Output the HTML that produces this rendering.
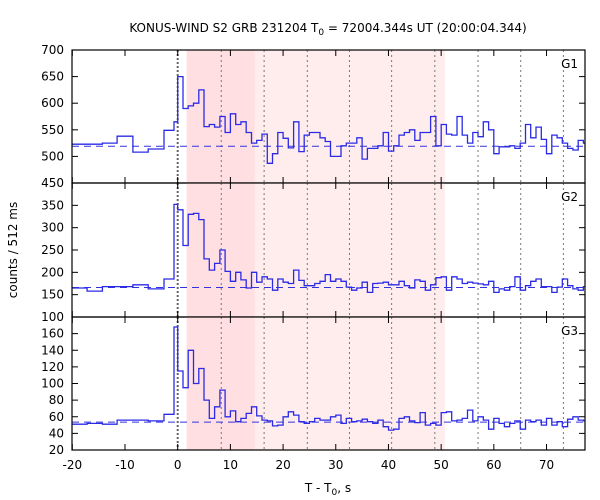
<!DOCTYPE html>
<html><head><meta charset="utf-8"><style>
html,body{margin:0;padding:0;background:#fff;}
svg{display:block;font-family:"DejaVu Sans","Liberation Sans",sans-serif;}
</style></head><body>
<svg id="chart" width="600" height="500" viewBox="0 0 600 500" xmlns="http://www.w3.org/2000/svg">
<text x="328" y="32" font-size="12" text-anchor="middle">KONUS-WIND S2 GRB 231204 T<tspan font-size="9" dy="3">0</tspan><tspan dy="-3"> = 72004.344s UT (20:00:04.344)</tspan></text>
<text transform="translate(17,250) rotate(-90)" font-size="12" text-anchor="middle">counts / 512 ms</text>
<text x="328" y="492" font-size="12" text-anchor="middle">T - T<tspan font-size="9" dy="3">0</tspan><tspan dy="-3">, s</tspan></text>
<g id="layers"></g>
</svg>
<script>
// ---- data ----
const preEdges = [-20, -17.2, -14.3, -11.5, -8.5, -5.6, -2.6, -0.7, 0];
const g1Pre = [523, 523, 525, 538, 508, 514, 549, 565];
const g2Pre = [165, 158, 168, 168, 172, 163, 185, 352];
const g3Pre = [51, 52, 51, 56, 56, 55, 63, 168];
const binWidth = 1; // post-trigger bins, seconds
const g1Post = [650,590,595,600,625,556,560,555,575,545,580,560,565,545,525,530,542,487,505,545,534,516,565,509,540,545,545,535,528,500,500,520,525,525,535,495,515,515,520,545,510,520,540,545,550,530,545,545,575,520,560,542,540,575,540,525,545,537,565,550,505,518,518,520,515,525,560,535,555,532,505,540,535,525,515,512,530,525];
const g2Post = [340,260,330,332,318,230,205,220,250,202,180,200,183,165,200,178,190,185,160,185,178,175,205,182,170,170,175,180,195,180,185,180,167,160,165,178,155,175,176,178,172,172,180,170,165,183,180,160,172,188,190,160,190,185,175,178,176,174,172,180,155,163,160,168,190,160,170,180,185,168,168,155,167,185,170,163,160,168];
const g3Post = [115,95,140,100,118,80,58,72,92,60,67,54,58,64,72,61,56,55,49,50,60,66,62,54,52,54,58,56,56,60,62,52,58,54,55,57,54,52,56,48,44,45,58,60,55,53,65,50,52,50,65,66,55,56,58,68,55,60,56,45,58,52,48,52,55,45,56,54,56,50,58,50,54,48,57,60,56,55];
const backgrounds = [519, 166, 53.5];
const panelNames = ["G1", "G2", "G3"];
const yRanges = [[450, 700], [100, 400], [20, 180]];
const yTicks = [[450,500,550,600,650,700],[100,150,200,250,300,350],[20,40,60,80,100,120,140,160]];
const xTicks = [-20,-10,0,10,20,30,40,50,60,70];
const dottedTimes = [8.27,16.4,24.6,32.6,40.6,48.8,57.0,65.1,73.2];
const shadeLight = [1.7, 50.7];
const shadeDark = [1.7, 14.6];
const xRange = [-20.06, 77.3];

// ---- layout ----
const L = 72, R = 585;
const panelTops = [50, 183, 317], panelBots = [183, 317, 450];
const NS = "http://www.w3.org/2000/svg";
const root = document.getElementById('layers');
function x(t){ return L + (t - xRange[0]) / (xRange[1] - xRange[0]) * (R - L); }
function mk(tag, attrs, parent){ const e = document.createElementNS(NS, tag); for (const k in attrs) e.setAttribute(k, attrs[k]); (parent||root).appendChild(e); return e; }

const defs = mk('defs', {});
const series = [[g1Pre, g1Post], [g2Pre, g2Post], [g3Pre, g3Post]];

for (let p = 0; p < 3; p++) {
  const top = panelTops[p], bot = panelBots[p];
  const [y0, y1] = yRanges[p];
  const y = v => bot - (v - y0) / (y1 - y0) * (bot - top);
  const cp = mk('clipPath', {id: 'clip' + p}, defs);
  mk('rect', {x: L, y: top, width: R - L, height: bot - top}, cp);
  const g = mk('g', {});
  
  
  const light = mk('rect', {x: x(shadeLight[0]), y: top, width: x(shadeLight[1]) - x(shadeLight[0]), height: bot - top, fill: '#ffeced'}, g);
  
  
  const dark = mk('rect', {x: x(shadeDark[0]), y: top, width: x(shadeDark[1]) - x(shadeDark[0]), height: bot - top, fill: '#ffdfe2'}, g);
  
  
  dottedTimes.forEach(t => {
    const l = mk('line', {x1: x(t), x2: x(t), y1: top, y2: bot, stroke: '#777', 'stroke-width': 1, 'stroke-dasharray': '2,3'}, g);
    
    
  });
  const z = mk('line', {x1: x(0), x2: x(0), y1: top, y2: bot, stroke: '#666', 'stroke-width': 2, 'stroke-dasharray': '2,2'}, g);
  
  
  const bl = mk('line', {x1: L, x2: R, y1: y(backgrounds[p]), y2: y(backgrounds[p]), stroke: '#3333dd', 'stroke-width': 1, 'stroke-dasharray': '7,5'}, g);
  
  
  const [pre, post] = series[p];
  let d = '';
  for (let i = 0; i < pre.length; i++) {
    const a = x(preEdges[i]), b = x(preEdges[i+1]), yy = y(pre[i]);
    d += (i === 0 ? 'M' : 'L') + a.toFixed(1) + ',' + yy.toFixed(1) + 'L' + b.toFixed(1) + ',' + yy.toFixed(1);
  }
  for (let i = 0; i < post.length; i++) {
    const a = x(i * binWidth), b = x((i + 1) * binWidth), yy = y(post[i]);
    d += 'L' + a.toFixed(1) + ',' + yy.toFixed(1) + 'L' + b.toFixed(1) + ',' + yy.toFixed(1);
  }
  const h = mk('path', {d: d, fill: 'none', stroke: '#2b2be6', 'stroke-width': 1.3, 'clip-path': 'url(#clip' + p + ')'}, g);
  
  
  const fr = mk('rect', {x: L, y: top, width: R - L, height: bot - top, fill: 'none', stroke: '#000', 'stroke-width': 1.2}, g);
  
  
  yTicks[p].forEach(v => {
    const yy = y(v);
    mk('line', {x1: L, x2: L + 6, y1: yy, y2: yy, stroke: '#000'}, g);
    mk('line', {x1: R, x2: R - 6, y1: yy, y2: yy, stroke: '#000'}, g);
    const t = mk('text', {x: 64, y: yy + 4, 'font-size': 12, 'text-anchor': 'end'}, g);
    t.textContent = v;
    
    
  });
  xTicks.forEach(v => {
    const xx = x(v);
    mk('line', {x1: xx, x2: xx, y1: top, y2: top + 6, stroke: '#000'}, g);
    mk('line', {x1: xx, x2: xx, y1: bot, y2: bot - 6, stroke: '#000'}, g);
  });
  const lab = mk('text', {x: 578, y: top + 18, 'font-size': 12, 'text-anchor': 'end'}, g);
  lab.textContent = panelNames[p];
  
  
}
xTicks.forEach(v => {
  const t = mk('text', {x: x(v), y: 469, 'font-size': 12, 'text-anchor': 'middle'});
  t.textContent = v;
  
  
});
</script>
</body></html>
